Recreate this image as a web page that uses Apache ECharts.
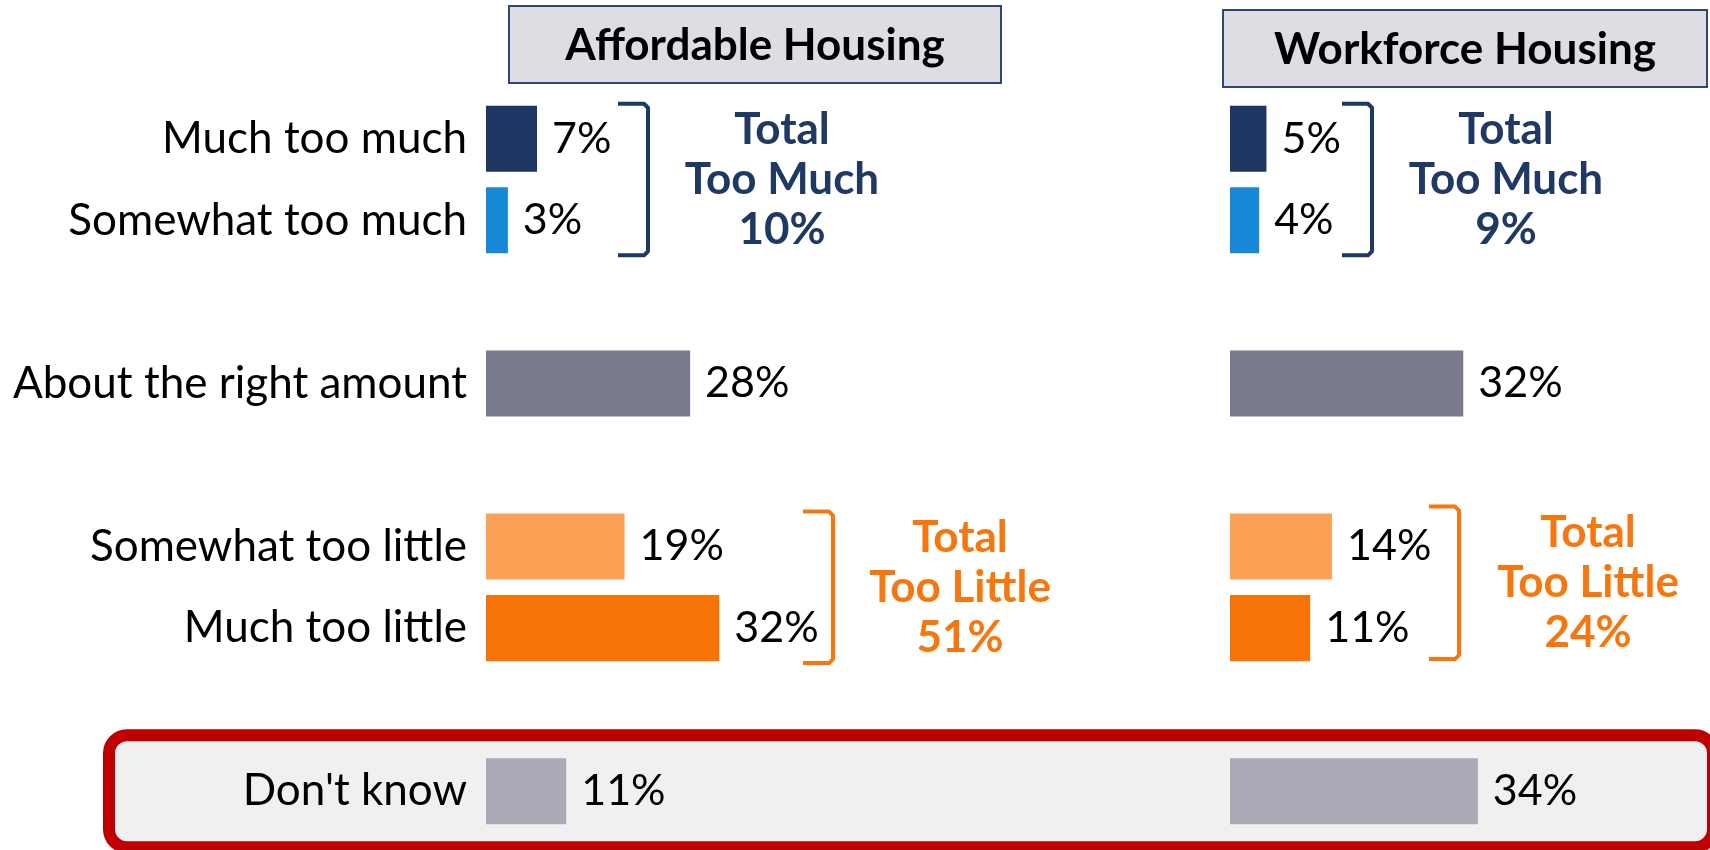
<!DOCTYPE html>
<html>
<head>
<meta charset="utf-8">
<script src="https://cdn.jsdelivr.net/npm/echarts@6/dist/echarts.min.js"></script>
<style>
html,body{margin:0;padding:0;background:#fff;}
#main{width:1710px;height:850px;}
</style>
</head>
<body>
<div id="main"></div>
<script>
// ---- data ----
const categories = ['Much too much', 'Somewhat too much', ' ', 'About the right amount', '  ', 'Somewhat too little', 'Much too little', '   ', "Don't know"];
const affordable = [7, 3, null, 28, null, 19, 32, null, 11];
const workforce  = [5, 4, null, 32, null, 14, 11, null, 34];
const panelTitles = ['Affordable Housing', 'Workforce Housing'];
const totalTooMuch = [10, 9];
const totalTooLittle = [51, 24];

// ---- styles ----
const rowColors = ['#1E3762', '#1888D8', null, '#797A8E', null, '#FCA257', '#F87305', null, '#A9AAB6'];
const NAVY = '#1F3864';
const ORANGE = '#F7770F';
const FONT = 'Lato, "Noto Sans", sans-serif';
const FS = 44;
const FSV = 43;

const chart = echarts.init(document.getElementById('main'), null, {renderer: 'canvas'});

function seriesData(vals) {
  return vals.map((v, i) => v == null ? null : {value: v, itemStyle: {color: rowColors[i]}});
}

const gridTop = 98, gridH = 734, gridW = 437.4;
const option = {
  animation: false,
  backgroundColor: '#ffffff',
  grid: [
    {left: 486, top: gridTop, width: gridW, height: gridH},
    {left: 1230, top: gridTop, width: gridW, height: gridH}
  ],
  xAxis: [0, 1].map(i => ({
    type: 'value', gridIndex: i, min: 0, max: 60, show: false
  })),
  yAxis: [0, 1].map(i => ({
    type: 'category', gridIndex: i, data: categories, inverse: true,
    axisLine: {show: false}, axisTick: {show: false}, splitLine: {show: false},
    axisLabel: {show: i === 0, margin: 19, color: '#000', fontFamily: FONT, fontSize: FS}
  })),
  series: [affordable, workforce].map((vals, i) => ({
    type: 'bar', xAxisIndex: i, yAxisIndex: i,
    data: seriesData(vals),
    barCategoryGap: '19%',
    z: 5,
    label: {
      show: true, position: 'right', distance: 15,
      formatter: p => p.value + '%',
      color: '#000', fontFamily: FONT, fontSize: FSV
    }
  }))
};
chart.setOption(option);

// ---- annotations positioned from the axes ----
function yOf(idx) { return chart.convertToPixel({gridIndex: 0}, [0, idx])[1]; }
function xOf(grid, v) { return chart.convertToPixel({gridIndex: grid}, [v, 0])[0]; }
const half = 35;

function bracket(x, y1, y2, color, tick) {
  return {
    type: 'polyline', z: 20,
    shape: {points: [[x - tick, y1], [x - 4, y1], [x, y1 + 4], [x, y2 - 4], [x - 4, y2], [x - tick, y2]]},
    style: {stroke: color, lineWidth: 4, fill: null, lineJoin: 'round'}
  };
}
function totalText(cx, cy, lines, color) {
  return lines.map((t, k) => ({
    type: 'text', z: 20,
    style: {text: t, x: cx, y: cy + (k - 1) * 50, align: 'center', verticalAlign: 'middle',
            font: 'bold ' + FS + 'px ' + FONT, fill: color}
  }));
}

const g0 = xOf(0, 0), g1 = xOf(1, 0);
const topY1 = yOf(0) - half, topY2 = yOf(1) + half;
const botY1 = yOf(5) - half, botY2 = yOf(6) + half;
const dkY = yOf(8);

const graphics = [
  // Don't know highlight box
  {type: 'rect', z: 0, shape: {x: 109, y: dkY - 56, width: 1604, height: 112, r: 18},
   style: {fill: '#F0F0F0', stroke: '#C00000', lineWidth: 12}},
  // panel headers
  {type: 'rect', z: 20, shape: {x: g0 + 23, y: 6, width: 492, height: 77},
   style: {fill: '#DEDDE4', stroke: '#2F4870', lineWidth: 2}},
  {type: 'text', z: 21, style: {text: panelTitles[0], x: g0 + 23 + 246, y: 46, align: 'center', verticalAlign: 'middle',
     font: 'bold ' + FS + 'px ' + FONT, fill: '#000'}},
  {type: 'rect', z: 20, shape: {x: g1 - 7, y: 10, width: 484, height: 77},
   style: {fill: '#DEDDE4', stroke: '#2F4870', lineWidth: 2}},
  {type: 'text', z: 21, style: {text: panelTitles[1], x: g1 - 7 + 242, y: 50, align: 'center', verticalAlign: 'middle',
     font: 'bold ' + FS + 'px ' + FONT, fill: '#000'}},
  // brackets
  bracket(g0 + 162, topY1, topY2, NAVY, 30),
  bracket(g0 + 347, botY1, botY2, ORANGE, 30),
  bracket(g1 + 142, topY1, topY2, NAVY, 30),
  bracket(g1 + 229, botY1 - 5, botY2 - 4, ORANGE, 30),
  ...totalText(g0 + 296, (topY1 + topY2) / 2, ['Total', 'Too Much', totalTooMuch[0] + '%'], NAVY),
  ...totalText(g1 + 276, (topY1 + topY2) / 2, ['Total', 'Too Much', totalTooMuch[1] + '%'], NAVY),
  ...totalText(g0 + 474, (botY1 + botY2) / 2, ['Total', 'Too Little', totalTooLittle[0] + '%'], ORANGE),
  ...totalText(g1 + 358, (botY1 + botY2) / 2 - 5, ['Total', 'Too Little', totalTooLittle[1] + '%'], ORANGE)
];
chart.setOption({graphic: graphics});
</script>
</body>
</html>
